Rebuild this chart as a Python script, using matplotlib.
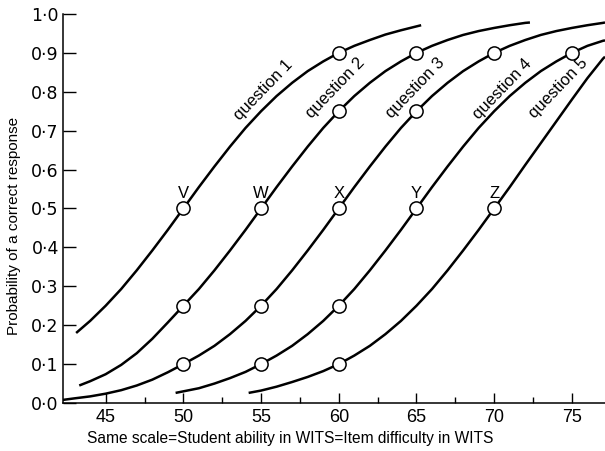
import matplotlib.pyplot as plt
from matplotlib.ticker import FixedLocator, FixedFormatter

plt.rcParams['font.family'] = ['Liberation Sans', 'DejaVu Sans']

# curves (ability in WITS, probability of a correct response)
q1_x = [43.1, 44, 45, 46, 47, 48, 49, 50, 51, 52, 53, 54, 55, 56, 57, 58, 59, 60,
        61, 62, 63, 64, 65, 65.3]
q1_p = [0.18, 0.211, 0.25, 0.293, 0.341, 0.392, 0.445, 0.5, 0.555, 0.608, 0.659, 0.707,
        0.75, 0.789, 0.823, 0.853, 0.878, 0.9, 0.918, 0.933, 0.947, 0.958, 0.968, 0.971]

q2_x = [43.3, 44, 45, 46, 47, 48, 49, 50, 51, 52, 53, 54, 55, 56, 57, 58, 59, 60,
        61, 62, 63, 64, 65, 66, 67, 68, 69, 70, 71, 72, 72.3]
q2_p = [0.045, 0.056, 0.074, 0.098, 0.128, 0.165, 0.207, 0.25, 0.293, 0.341, 0.392, 0.445,
        0.5, 0.555, 0.608, 0.659, 0.707, 0.75, 0.789, 0.823, 0.853, 0.878, 0.9, 0.918,
        0.933, 0.946, 0.956, 0.964, 0.971, 0.977, 0.978]

q3_x = [42.25, 43, 44, 45, 46, 47, 48, 49, 50, 51, 52, 53, 54, 55, 56, 57, 58, 59, 60,
        61, 62, 63, 64, 65, 66, 67, 68, 69, 70, 71, 72, 73, 74, 75, 76, 77, 77.13]
q3_p = [0.008, 0.012, 0.017, 0.024, 0.033, 0.045, 0.06, 0.079, 0.1, 0.122, 0.147, 0.177,
        0.211, 0.25, 0.293, 0.341, 0.392, 0.445, 0.5, 0.555, 0.608, 0.659, 0.707, 0.75,
        0.789, 0.823, 0.853, 0.878, 0.9, 0.918, 0.933, 0.946, 0.956, 0.964, 0.971, 0.977,
        0.978]

q4_x = [49.5, 50, 51, 52, 53, 54, 55, 56, 57, 58, 59, 60, 61, 62, 63, 64, 65, 66, 67,
        68, 69, 70, 71, 72, 73, 74, 75, 76, 77, 77.13]
q4_p = [0.026, 0.03, 0.038, 0.05, 0.064, 0.08, 0.1, 0.122, 0.147, 0.177, 0.211, 0.25,
        0.293, 0.341, 0.392, 0.445, 0.5, 0.555, 0.608, 0.659, 0.707, 0.75, 0.789, 0.823,
        0.853, 0.878, 0.9, 0.918, 0.931, 0.932]

q5_x = [54.2, 55, 56, 57, 58, 59, 60, 61, 62, 63, 64, 65, 66, 67, 68, 69, 70, 71, 72,
        73, 74, 75, 76, 77, 77.13]
q5_p = [0.026, 0.032, 0.042, 0.054, 0.067, 0.082, 0.1, 0.122, 0.147, 0.177, 0.211, 0.25,
        0.293, 0.341, 0.392, 0.445, 0.5, 0.555, 0.612, 0.668, 0.724, 0.78, 0.835, 0.885,
        0.89]

curves = [(q1_x, q1_p), (q2_x, q2_p), (q3_x, q3_p), (q4_x, q4_p), (q5_x, q5_p)]
curve_names = ['question 1', 'question 2', 'question 3', 'question 4', 'question 5']

# marked points
circ_x = [50, 60, 50, 55, 60, 65, 50, 55, 60, 65, 70, 55, 60, 65, 75, 60, 70]
circ_p = [0.5, 0.9, 0.25, 0.5, 0.75, 0.9, 0.1, 0.25, 0.5, 0.75, 0.9, 0.1, 0.25, 0.5, 0.9, 0.1, 0.5]

letters = ['V', 'W', 'X', 'Y', 'Z']
letter_x = [50, 55, 60, 65, 70]
letter_p = [0.5, 0.5, 0.5, 0.5, 0.5]

y_ticks = [0.0, 0.1, 0.2, 0.3, 0.4, 0.5, 0.6, 0.7, 0.8, 0.9, 1.0]
y_labels = ['0·0', '0·1', '0·2', '0·3', '0·4', '0·5', '0·6', '0·7', '0·8', '0·9', '1·0']
x_ticks = [45, 50, 55, 60, 65, 70, 75]
x_minor = [47.5, 52.5, 57.5, 62.5, 67.5, 72.5]

fig = plt.figure(figsize=(6.05, 4.51), dpi=100)
ax = fig.add_axes([0.104, 0.1064, 0.896, 0.8627])

for xs, ps in curves:
    ax.plot(xs, ps, color='black', lw=1.8, solid_capstyle='butt', zorder=2)

ax.plot(circ_x, circ_p, 'o', ms=9.5, mfc='white', mec='black', mew=1.1, zorder=3)

for t, x, p in zip(letters, letter_x, letter_p):
    ax.annotate(t, (x, p), xytext=(0, 11), textcoords='offset points',
                ha='center', va='center', fontsize=12)

label_pos = [(55.17, 0.805), (59.8, 0.81), (64.96, 0.81), (70.5, 0.807), (74.1, 0.81)]
for name, (x, p) in zip(curve_names, label_pos):
    ax.text(x, p, name, rotation=46, rotation_mode='anchor', ha='center', va='center',
            fontsize=12)

ax.set_xlim(42.25, 77.13)
ax.set_ylim(0, 1)
ax.spines['top'].set_visible(False)
ax.spines['right'].set_visible(False)
for s in ['left', 'bottom']:
    ax.spines[s].set_linewidth(1.1)

ax.yaxis.set_major_locator(FixedLocator(y_ticks))
ax.yaxis.set_major_formatter(FixedFormatter(y_labels))
ax.xaxis.set_major_locator(FixedLocator(x_ticks))
ax.xaxis.set_minor_locator(FixedLocator(x_minor))
ax.tick_params(axis='y', direction='in', length=9, width=1.0, pad=3)
ax.tick_params(axis='x', which='major', direction='in', length=7, width=1.0, labelsize=13, pad=4)
ax.tick_params(axis='x', which='minor', direction='in', length=4.5, width=1.0)
for lab in ax.get_yticklabels():
    lab.set_family('DejaVu Sans')
    lab.set_fontsize(12.5)

ax.set_xlabel('Same scale=Student ability in WITS=Item difficulty in WITS', fontsize=11.2)
ax.xaxis.set_label_coords(0.42, -0.073)
ax.set_ylabel('Probability of a correct response', fontsize=11)
ax.yaxis.set_label_coords(-0.078, 0.455)

fig.savefig('out.png', dpi=100)
